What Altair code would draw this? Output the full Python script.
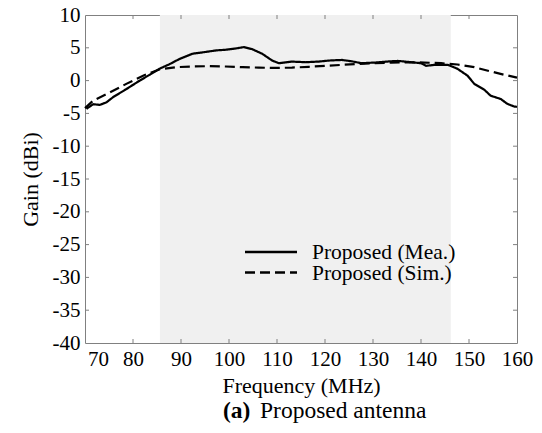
import altair as alt
import pandas as pd

# ---- data ----
freq_mea = [70.3, 71.7, 73.1, 74.5, 75.9, 78.6, 81.4, 83.5, 85.5, 87.6, 89.7, 92.4,
            94.5, 97.3, 99.3, 101.4, 103.1, 104.8, 106.9, 109.0, 110.4, 113.1, 115.9,
            118.7, 120.7, 123.5, 125.5, 127.6, 130.4, 133.8, 135.2, 138.0, 140.0,
            141.1, 142.8, 145.6, 147.6, 149.7, 151.1, 153.2, 154.5, 156.6, 158.0, 159.4, 160.0]
gain_mea = [-4.3, -3.6, -3.7, -3.3, -2.5, -1.3, 0.0, 0.9, 1.8, 2.5, 3.3, 4.1,
            4.3, 4.6, 4.7, 4.9, 5.1, 4.8, 4.1, 3.05, 2.65, 2.9, 2.8,
            2.9, 3.05, 3.15, 2.95, 2.65, 2.75, 2.95, 3.0, 2.8, 2.65,
            2.25, 2.4, 2.4, 1.8, 0.75, -0.5, -1.4, -2.3, -2.8, -3.55, -3.95, -4.0]

freq_sim = [70.0, 71.7, 75.2, 78.6, 82.1, 85.5, 89.0, 92.4, 95.9, 99.3, 102.8, 106.2,
            109.7, 113.1, 116.6, 120.0, 123.5, 126.9, 130.4, 133.8, 137.3, 140.7,
            144.2, 147.6, 151.1, 154.5, 157.3, 160.0]
gain_sim = [-4.2, -3.05, -1.8, -0.5, 0.75, 1.7, 2.05, 2.15, 2.2, 2.15, 2.05, 1.98,
            1.93, 1.98, 2.1, 2.25, 2.4, 2.55, 2.65, 2.75, 2.8, 2.75,
            2.65, 2.45, 2.05, 1.4, 0.9, 0.45]

band_start = [85.6]
band_end = [146.2]

x_ticks = [70, 80, 90, 100, 110, 120, 130, 140, 150, 160]
y_ticks = [10, 5, 0, -5, -10, -15, -20, -25, -30, -35, -40]
series_names = ["Proposed (Mea.)", "Proposed (Sim.)"]
dashes = [[1, 0], [10, 5]]

W, H = 432, 328
FONT = "Liberation Serif"

lines_df = pd.concat([
    pd.DataFrame({"freq": freq_mea, "gain": gain_mea, "series": series_names[0]}),
    pd.DataFrame({"freq": freq_sim, "gain": gain_sim, "series": series_names[1]}),
])
band_df = pd.DataFrame({"start": band_start, "end": band_end})
xt_df = pd.DataFrame({"x": x_ticks[1:-1]})
yt_df = pd.DataFrame({"y": y_ticks[1:-1]})

xscale = alt.Scale(domain=[70, 160], nice=False, zero=False)
yscale = alt.Scale(domain=[-40, 10], nice=False, zero=False)

xaxis = alt.Axis(values=x_ticks, title="Frequency (MHz)", grid=False, ticks=False,
                 domain=False, labelFlush=False, labelPadding=5, titlePadding=6,
                 labelFont=FONT, titleFont=FONT, labelFontSize=21, titleFontSize=22,
                 labelColor="black", titleColor="black", titleFontWeight="normal",
                 labelOffset={"condition": {"test": "datum.value == 70", "value": 13}, "value": 0})
yaxis = alt.Axis(values=y_ticks, title="Gain (dBi)", grid=False, ticks=False,
                 domain=False, labelPadding=5, titlePadding=10,
                 labelExpr="'' + datum.value",
                 labelFont=FONT, titleFont=FONT, labelFontSize=21, titleFontSize=22,
                 labelColor="black", titleColor="black", titleFontWeight="normal")

band = alt.Chart(band_df).mark_rect(color="#f0f0f0").encode(
    x=alt.X("start:Q", scale=xscale, axis=xaxis, title="Frequency (MHz)"),
    x2="end:Q",
    y=alt.value(0), y2=alt.value(H),
)

lines = alt.Chart(lines_df).mark_line(color="black", strokeWidth=2.2).encode(
    x=alt.X("freq:Q", scale=xscale, axis=xaxis, title="Frequency (MHz)"),
    y=alt.Y("gain:Q", scale=yscale, axis=yaxis, title="Gain (dBi)"),
    strokeDash=alt.StrokeDash("series:N", scale=alt.Scale(domain=series_names, range=dashes), legend=None),
    detail="series:N",
)

tick_col = "#808080"
xt_bottom = alt.Chart(xt_df).mark_rule(color=tick_col).encode(
    x=alt.X("x:Q", scale=xscale, axis=xaxis, title="Frequency (MHz)"),
    y=alt.value(H), y2=alt.value(H - 4))
xt_top = alt.Chart(xt_df).mark_rule(color=tick_col).encode(
    x=alt.X("x:Q", scale=xscale, axis=xaxis, title="Frequency (MHz)"),
    y=alt.value(0), y2=alt.value(4))
yt_left = alt.Chart(yt_df).mark_rule(color=tick_col).encode(
    y=alt.Y("y:Q", scale=yscale, axis=yaxis, title="Gain (dBi)"),
    x=alt.value(0), x2=alt.value(4))
yt_right = alt.Chart(yt_df).mark_rule(color=tick_col).encode(
    y=alt.Y("y:Q", scale=yscale, axis=yaxis, title="Gain (dBi)"),
    x=alt.value(W - 4), x2=alt.value(W))

legend_layers = []
leg_y = [237, 257.5]
for i, name in enumerate(series_names):
    one = pd.DataFrame({"series": [name]})
    legend_layers.append(
        alt.Chart(one).mark_rule(color="black", strokeWidth=2.5, strokeDash=dashes[i]).encode(
            x=alt.value(160), x2=alt.value(212), y=alt.value(leg_y[i]))
    )
    legend_layers.append(
        alt.Chart(one).mark_text(font=FONT, fontSize=21.5, align="left", baseline="middle",
                                 color="black").encode(
            x=alt.value(227), y=alt.value(leg_y[i] + 1), text="series:N")
    )

cap_df = pd.DataFrame({"a": ["(a)"], "b": ["Proposed antenna"]})
cap_a = alt.Chart(cap_df).mark_text(font=FONT, fontSize=23.5, fontWeight="bold", align="left",
                                    baseline="alphabetic", color="black").encode(
    x=alt.value(138), y=alt.value(403), text="a:N")
cap_b = alt.Chart(cap_df).mark_text(font=FONT, fontSize=23.5, align="left",
                                    baseline="alphabetic", color="black").encode(
    x=alt.value(175), y=alt.value(403), text="b:N")

chart = alt.layer(
    band, lines, xt_bottom, xt_top, yt_left, yt_right, *legend_layers, cap_a, cap_b
).properties(
    width=W, height=H,
    background="white",
    autosize=alt.AutoSizeParams(type="none"),
    padding={"left": 77, "top": 7, "right": 17, "bottom": 82},
).configure_view(
    stroke="#808080", strokeWidth=1
)

chart.save("out.html", embed_options={"renderer": "svg", "actions": False})
